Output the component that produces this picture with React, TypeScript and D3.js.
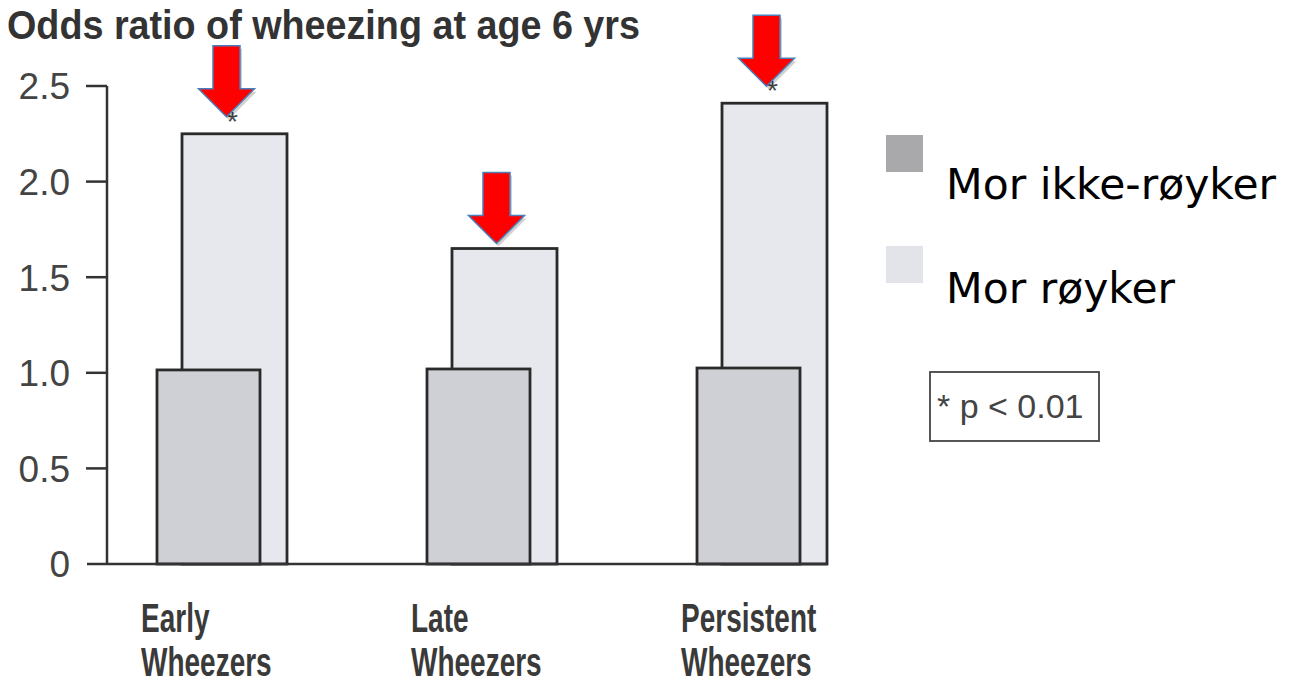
import * as d3 from "d3";

const categories = ["Early", "Late", "Persistent"];
const labelLine2 = "Wheezers";
const seriesNames = ["Mor ikke-røyker", "Mor røyker"];
const nonSmoker = [1.015, 1.02, 1.025];
const smoker = [2.25, 1.65, 2.41];
const significant = [true, false, true];
const yTicks = [0, 0.5, 1.0, 1.5, 2.0, 2.5];
const yTickLabels = ["0", "0.5", "1.0", "1.5", "2.0", "2.5"];
const title = "Odds ratio of wheezing at age 6 yrs";
const note = "* p < 0.01";

const W = 1293;
const H = 686;
const axisX = 107;

const sans = "'Liberation Sans', Arial, sans-serif";

export default function App() {
  const y = d3.scaleLinear().domain([0, 2.5]).range([564, 86]);
  const x = d3.scaleBand().domain(categories).range([137, 137 + 270 * 3]);

  const darkW = 103;
  const lightOff = 25;
  const lightW = 105;
  const lastRight = (x(categories[2]) ?? 0) + 20 + lightOff + lightW;

  // red arrow pointing down, tip at (tx,ty)
  const arrow = (tx: number, ty: number) => {
    const p = [
      [tx - 13.5, ty - 71],
      [tx + 13.5, ty - 71],
      [tx + 13.5, ty - 28],
      [tx + 28, ty - 28],
      [tx, ty],
      [tx - 28, ty - 28],
      [tx - 13.5, ty - 28],
    ];
    return "M" + p.map((d) => d.join(",")).join("L") + "Z";
  };

  return (
    <svg
      width={W}
      height={H}
      style={{ position: "absolute", left: 0, top: 0, background: "#fff" }}
    >
      <text
        x={7}
        y={39}
        fontFamily={sans}
        fontWeight="bold"
        fontSize={40}
        fill="#333"
        textLength={633}
        lengthAdjust="spacingAndGlyphs"
      >
        {title}
      </text>

      {/* y axis */}
      <line x1={axisX} x2={axisX} y1={y(0)} y2={y(2.5)} stroke="#333" strokeWidth={2.5} />
      {yTicks.map((t, i) => (
        <g key={t}>
          {i > 0 && (
            <line x1={86} x2={axisX} y1={y(t)} y2={y(t)} stroke="#333" strokeWidth={2.5} />
          )}
          <text
            x={70}
            y={y(t)}
            dy="0.36em"
            textAnchor="end"
            fontFamily={sans}
            fontSize={37}
            fill="#444"
          >
            {yTickLabels[i]}
          </text>
        </g>
      ))}

      {/* bars */}
      {categories.map((c, i) => {
        const gx = (x(c) ?? 0) + 20;
        return (
          <g key={c}>
            <rect
              x={gx + lightOff}
              y={y(smoker[i])}
              width={lightW}
              height={y(0) - y(smoker[i])}
              fill="#e6e8ed"
              stroke="#2a2a2a"
              strokeWidth={2.8}
            />
            <rect
              x={gx}
              y={y(nonSmoker[i])}
              width={darkW}
              height={y(0) - y(nonSmoker[i])}
              fill="#cfd0d5"
              stroke="#2a2a2a"
              strokeWidth={2.8}
            />
            {significant[i] && (
              <text
                x={gx + lightOff + lightW / 2 - 2}
                y={y(smoker[i]) - 3}
                textAnchor="middle"
                fontFamily={sans}
                fontSize={28}
                fill="#444"
              >
                *
              </text>
            )}
            <g transform={`translate(${(x(c) ?? 0) + 4},0) scale(0.7,1)`}>
              <text x={0} y={632} fontFamily={sans} fontWeight="bold" fontSize={40} fill="#3a3a3a">
                {c}
              </text>
              <text x={0} y={676} fontFamily={sans} fontWeight="bold" fontSize={40} fill="#3a3a3a">
                {labelLine2}
              </text>
            </g>
          </g>
        );
      })}

      {/* baseline */}
      <line x1={87} x2={lastRight} y1={y(0)} y2={y(0)} stroke="#333" strokeWidth={2.5} />

      {/* red arrows */}
      {categories.map((c, i) => {
        const tx = (x(c) ?? 0) + 20 + lightOff + lightW / 2 - 8;
        const ty = y(smoker[i]) - (significant[i] ? 17 : 5);
        return (
          <g key={"a" + c}>
            <path d={arrow(tx + 2, ty + 3)} fill="#000" opacity={0.18} />
            <path d={arrow(tx, ty)} fill="#ff0000" stroke="#4a7ebb" strokeWidth={1.5} />
          </g>
        );
      })}

      {/* legend */}
      {seriesNames.map((s, i) => (
        <g key={s}>
          <rect x={886} y={135 + i * 111} width={37} height={37} fill={i === 0 ? "#a9a9ab" : "#e2e4ea"} />
          <text
            x={946}
            y={199 + i * 104}
            fontFamily="'DejaVu Sans', Verdana, sans-serif"
            fontSize={42.5}
            fill="#000"
          >
            {s}
          </text>
        </g>
      ))}

      <rect x={930} y={372} width={169} height={69} fill="none" stroke="#444" strokeWidth={1.8} />
      <text x={937} y={418} fontFamily={sans} fontSize={34} fill="#444">
        {note}
      </text>
    </svg>
  );
}
